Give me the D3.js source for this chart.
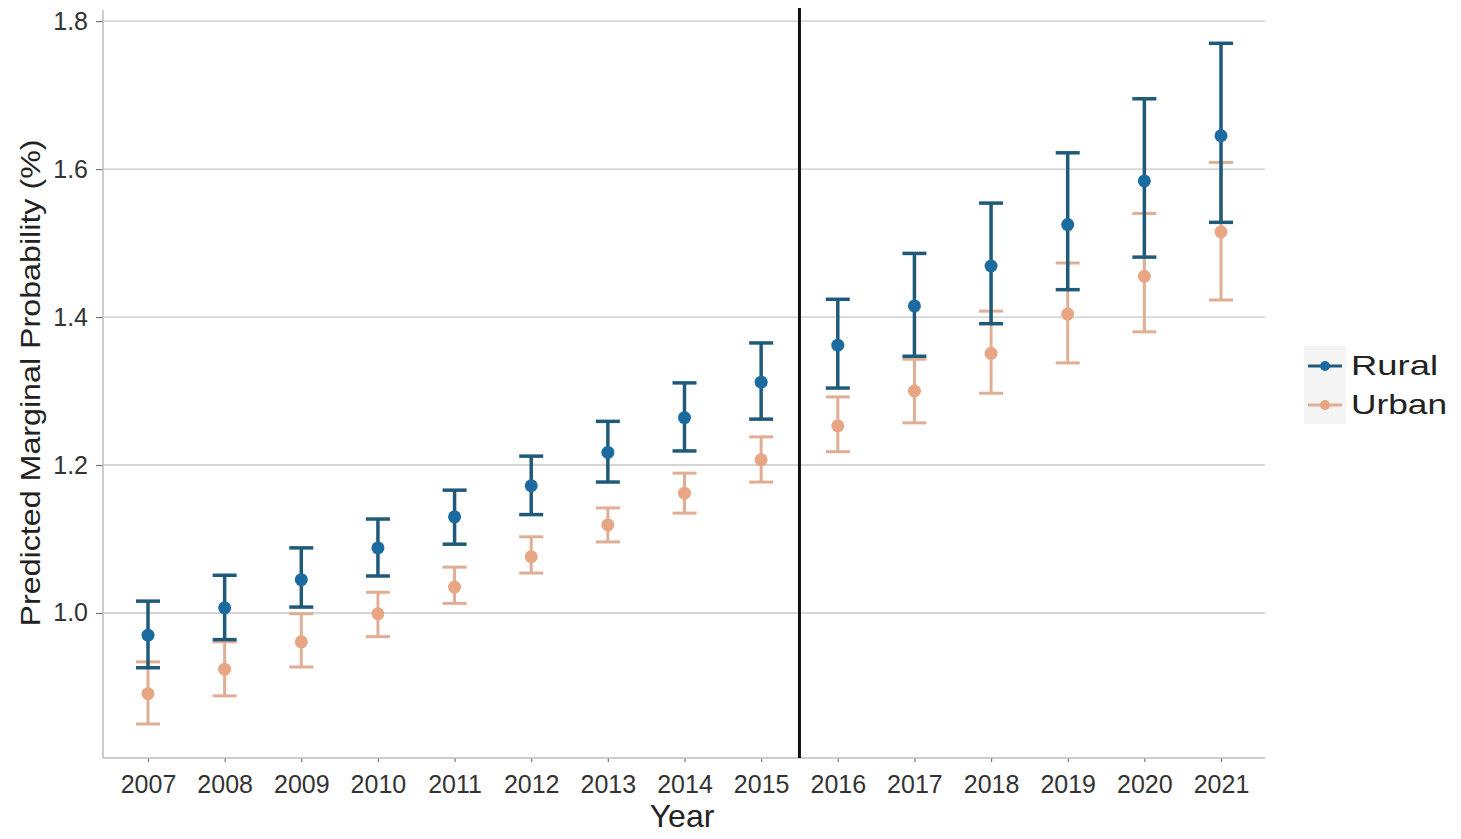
<!DOCTYPE html>
<html>
<head>
<meta charset="utf-8">
<script src="https://cdn.jsdelivr.net/npm/d3@7"></script>
<style>
  body { margin: 0; background: #fff; font-family: "Liberation Sans", Arial, sans-serif; }
</style>
</head>
<body>
<script>
(function() {
  var years = [2007, 2008, 2009, 2010, 2011, 2012, 2013, 2014, 2015, 2016, 2017, 2018, 2019, 2020, 2021];

  var ruralMid = [0.970, 1.007, 1.045, 1.088, 1.130, 1.172, 1.217, 1.264, 1.312, 1.362, 1.415, 1.469, 1.525, 1.584, 1.645];
  var ruralLo  = [0.926, 0.964, 1.008, 1.050, 1.093, 1.133, 1.177, 1.219, 1.262, 1.304, 1.347, 1.391, 1.437, 1.481, 1.528];
  var ruralHi  = [1.016, 1.051, 1.088, 1.127, 1.166, 1.212, 1.259, 1.311, 1.365, 1.424, 1.486, 1.554, 1.622, 1.695, 1.770];

  var urbanMid = [0.891, 0.924, 0.961, 0.999, 1.035, 1.076, 1.119, 1.162, 1.207, 1.253, 1.300, 1.351, 1.404, 1.455, 1.515];
  var urbanLo  = [0.850, 0.888, 0.927, 0.968, 1.013, 1.054, 1.096, 1.135, 1.177, 1.218, 1.257, 1.297, 1.338, 1.380, 1.423];
  var urbanHi  = [0.934, 0.961, 0.999, 1.028, 1.062, 1.103, 1.142, 1.189, 1.238, 1.292, 1.343, 1.408, 1.473, 1.540, 1.609];

  var yTicks = [1.0, 1.2, 1.4, 1.6, 1.8];
  var cutYear = 2015.5;

  var seriesNames = ["Rural", "Urban"];
  var barColors = { Rural: "#1f5b79", Urban: "#e0ae95" };
  var pointColors = { Rural: "#1b6ba0", Urban: "#e8a684" };

  var width = 1461, height = 839;
  var left = 103, right = 1265, top = 10, bottom = 758;

  var svg = d3.select("body").append("svg")
    .attr("width", width)
    .attr("height", height);

  var x = d3.scalePoint().domain(years).range([148, 1221]);
  var xLin = d3.scaleLinear().domain([2007, 2021]).range([148, 1221]);
  var y = d3.scaleLinear().domain([0.804, 1.815]).range([bottom, top]);

  // gridlines
  svg.append("g").selectAll("line").data(yTicks).enter().append("line")
    .attr("x1", left).attr("x2", right)
    .attr("y1", function(d) { return y(d); })
    .attr("y2", function(d) { return y(d); })
    .style("stroke", "#c8c8c8").style("stroke-width", 1.3);

  // axes
  var yAxis = svg.append("g").attr("transform", "translate(" + left + ",0)")
    .call(d3.axisLeft(y).tickValues(yTicks).tickFormat(d3.format(".1f")).tickSize(7).tickPadding(8));
  var xAxis = svg.append("g").attr("transform", "translate(0," + bottom + ")")
    .call(d3.axisBottom(x).tickSize(4).tickPadding(13));

  [yAxis, xAxis].forEach(function(a) {
    a.select(".domain").remove();
    a.selectAll("line").style("stroke", "#777").style("stroke-width", 1.2);
    a.selectAll("text").style("font-size", "25px").style("fill", "#333")
      .style("font-family", "'Liberation Sans', Arial, sans-serif");
  });

  svg.append("line").attr("x1", left).attr("x2", left).attr("y1", top).attr("y2", bottom)
    .style("stroke", "#bdbdbd").style("stroke-width", 1.5);
  svg.append("line").attr("x1", left).attr("x2", right).attr("y1", bottom).attr("y2", bottom)
    .style("stroke", "#bdbdbd").style("stroke-width", 1.5);

  // series
  function drawSeries(name, mid, lo, hi, sw) {
    var g = svg.append("g").attr("class", name);
    var data = years.map(function(yr, i) { return { year: yr, mid: mid[i], lo: lo[i], hi: hi[i] }; });
    var cap = 12;
    g.selectAll("line.bar").data(data).enter().append("line").attr("class", "bar")
      .attr("x1", function(d) { return x(d.year); }).attr("x2", function(d) { return x(d.year); })
      .attr("y1", function(d) { return y(d.lo); }).attr("y2", function(d) { return y(d.hi); })
      .style("stroke", barColors[name]).style("stroke-width", sw);
    g.selectAll("line.hicap").data(data).enter().append("line").attr("class", "hicap")
      .attr("x1", function(d) { return x(d.year) - cap; }).attr("x2", function(d) { return x(d.year) + cap; })
      .attr("y1", function(d) { return y(d.hi); }).attr("y2", function(d) { return y(d.hi); })
      .style("stroke", barColors[name]).style("stroke-width", sw);
    g.selectAll("line.locap").data(data).enter().append("line").attr("class", "locap")
      .attr("x1", function(d) { return x(d.year) - cap; }).attr("x2", function(d) { return x(d.year) + cap; })
      .attr("y1", function(d) { return y(d.lo); }).attr("y2", function(d) { return y(d.lo); })
      .style("stroke", barColors[name]).style("stroke-width", sw);
    g.selectAll("circle").data(data).enter().append("circle")
      .attr("cx", function(d) { return x(d.year); })
      .attr("cy", function(d) { return y(d.mid); })
      .attr("r", 6.5)
      .style("fill", pointColors[name]);
  }

  drawSeries("Urban", urbanMid, urbanLo, urbanHi, 3);
  drawSeries("Rural", ruralMid, ruralLo, ruralHi, 3.5);

  // vertical cut line
  svg.append("line")
    .attr("x1", xLin(cutYear)).attr("x2", xLin(cutYear))
    .attr("y1", 8).attr("y2", bottom)
    .style("stroke", "#111").style("stroke-width", 3);

  // axis titles
  svg.append("text").attr("x", 682).attr("y", 827)
    .attr("text-anchor", "middle")
    .style("font-size", "32px").style("fill", "#222")
    .text("Year");
  svg.append("text")
    .attr("transform", "translate(40,383) rotate(-90)")
    .attr("text-anchor", "middle")
    .attr("textLength", 487).attr("lengthAdjust", "spacingAndGlyphs")
    .style("font-size", "28px").style("fill", "#222")
    .text("Predicted Marginal Probability (%)");

  // legend
  var legend = svg.append("g").attr("transform", "translate(1304,346)");
  var legendWidths = { Rural: 87, Urban: 96 };
  seriesNames.forEach(function(name, i) {
    var row = legend.append("g").attr("transform", "translate(0," + (i * 39) + ")");
    row.append("rect").attr("x", 0).attr("y", 0).attr("width", 42).attr("height", 39)
      .style("fill", "#f4f4f4");
    row.append("line").attr("x1", 4).attr("x2", 38).attr("y1", 20).attr("y2", 20)
      .style("stroke", barColors[name]).style("stroke-width", 3);
    row.append("circle").attr("cx", 21).attr("cy", 20).attr("r", 5)
      .style("fill", pointColors[name]);
    row.append("text").attr("x", 47).attr("y", 29)
      .attr("textLength", legendWidths[name]).attr("lengthAdjust", "spacingAndGlyphs")
      .style("font-size", "28px").style("fill", "#222")
      .text(name);
  });
}).call(this);
</script>
</body>
</html>
